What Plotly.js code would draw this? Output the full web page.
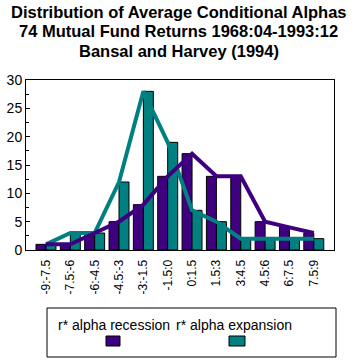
<!DOCTYPE html>
<html>
<head>
<meta charset="utf-8">
<script src="https://cdn.plot.ly/plotly-3.0.1.min.js"></script>
<style>html,body{margin:0;padding:0;background:#fff;}#chart{width:357px;height:360px;}</style>
</head>
<body>
<div id="chart"></div>
<script>
var categories = ["-9:-7.5","-7.5:-6","-6:-4.5","-4.5:-3","-3:-1.5","-1.5:0","0:1.5","1.5:3","3:4.5","4.5:6","6:7.5","7.5:9"];
var recession = [1, 1, 3, 5, 8, 13, 17, 13, 13, 5, 4, 3];
var expansion = [1, 3, 3, 12, 28, 19, 7, 5, 2, 2, 2, 2];
var seriesNames = ["r* alpha recession", "r* alpha expansion"];
var titleLines = ["Distribution of Average Conditional Alphas", "74 Mutual Fund Returns 1968:04-1993:12", "Bansal and Harvey (1994)"];
var purple = "#3f007f";
var teal = "#008080";

var W = 357, H = 360;
var L = 26, R = 334, T = 80, B = 250;
function px(x){ return (x - L) / (R - L); }
function py(y){ return (B - y) / (B - T); }

var traces = [
  {type:"bar", x:categories, y:recession, name:seriesNames[0], marker:{color:purple, line:{color:"#000", width:1}}, hoverinfo:"x+y"},
  {type:"bar", x:categories, y:expansion, name:seriesNames[1], marker:{color:teal, line:{color:"#000", width:1}}, hoverinfo:"x+y"},
  {type:"scatter", mode:"lines", x:categories, y:expansion, line:{color:teal, width:4}, showlegend:false, hoverinfo:"skip"},
  {type:"scatter", mode:"lines", x:categories, y:recession, line:{color:purple, width:4}, showlegend:false, hoverinfo:"skip"}
];

var titleY = [12, 31.5, 51];
var annotations = titleLines.map(function(t, i){
  return {xref:"paper", yref:"paper", x:px(178.5), y:py(titleY[i]), text:"<b>"+t+"</b>", showarrow:false, xanchor:"center", yanchor:"middle",
          font:{size:16.5, family:"Liberation Sans, Arial, sans-serif", color:"#000"}};
});
annotations.push(
  {xref:"paper", yref:"paper", x:px(114), y:py(325), text:seriesNames[0], showarrow:false, xanchor:"center", yanchor:"middle", font:{size:14}},
  {xref:"paper", yref:"paper", x:px(234), y:py(325), text:seriesNames[1], showarrow:false, xanchor:"center", yanchor:"middle", font:{size:14}}
);

var layout = {
  width:W, height:H,
  margin:{l:L, r:W-R, t:T, b:H-B, pad:0},
  paper_bgcolor:"#fff", plot_bgcolor:"#fff",
  font:{family:"Liberation Sans, Arial, sans-serif", color:"#000"},
  showlegend:false,
  barmode:"group", bargap:0.18, bargroupgap:0,
  xaxis:{type:"category", range:[-0.82, 11.83], tickangle:-90, tickfont:{size:12}, ticklabelstandoff:4, showline:true, linecolor:"#000", linewidth:1, mirror:true, ticks:"", showgrid:false, zeroline:false, fixedrange:true},
  yaxis:{range:[0,30], dtick:5, tickfont:{size:14}, showline:true, linecolor:"#000", linewidth:1, mirror:true, ticks:"inside", ticklen:4, tickcolor:"#000",
         minor:{dtick:2.5, ticks:"inside", ticklen:3, tickcolor:"#000"}, showgrid:false, zeroline:false, fixedrange:true},
  shapes:[
    {type:"rect", xref:"paper", yref:"paper", x0:px(47), x1:px(336), y0:py(357), y1:py(308), line:{color:"#000", width:1}, fillcolor:"rgba(0,0,0,0)"},
    {type:"rect", xref:"paper", yref:"paper", x0:px(106), x1:px(120), y0:py(346), y1:py(336), line:{color:"#000", width:1}, fillcolor:purple},
    {type:"rect", xref:"paper", yref:"paper", x0:px(229), x1:px(245), y0:py(346), y1:py(336), line:{color:"#000", width:1}, fillcolor:teal}
  ],
  annotations:annotations
};

Plotly.newPlot("chart", traces, layout, {displayModeBar:false, staticPlot:true});
</script>
</body>
</html>
